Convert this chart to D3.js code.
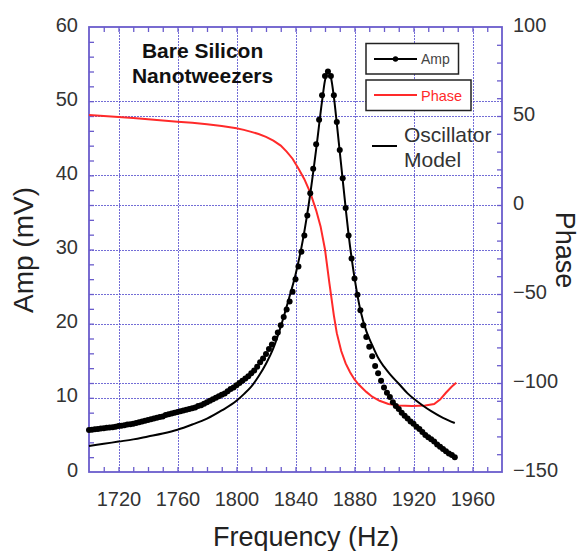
<!DOCTYPE html>
<html>
<head>
<meta charset="utf-8">
<script src="https://d3js.org/d3.v7.min.js"></script>
<style>
  body { margin: 0; background: #fff; }
  text { font-family: "Liberation Sans", Arial, sans-serif; }
</style>
</head>
<body>
<div id="chart"></div>
<script>
// Tick labels
const freqTicks = [1720, 1760, 1800, 1840, 1880, 1920, 1960];
const ampTicks = [0, 10, 20, 30, 40, 50, 60];
const phaseTicks = [-150, -100, -50, 0, 50, 100];

// Measured amplitude (mV), frequency sweep 1700..1948 Hz in 2 Hz steps
const sweepFreq = d3.range(1700, 1949, 2);
const ampData = [
  5.65, 5.7, 5.75, 5.8, 5.85, 5.9, 5.95, 6.0, 6.05, 6.1,
  6.2, 6.25, 6.3, 6.4, 6.45, 6.5, 6.6, 6.7, 6.8, 6.9,
  7.0, 7.1, 7.2, 7.3, 7.4, 7.5, 7.7, 7.8, 7.9, 8.0,
  8.1, 8.2, 8.3, 8.4, 8.5, 8.6, 8.7, 8.9, 9.0, 9.2,
  9.4, 9.6, 9.8, 10.0, 10.2, 10.4, 10.6, 10.9, 11.2, 11.4,
  11.7, 12.0, 12.3, 12.6, 12.9, 13.3, 13.7, 14.2, 14.8, 15.3,
  15.9, 16.6, 17.2, 18.0, 18.8, 19.8, 20.9, 21.9, 23.0, 24.3,
  26.0, 27.7, 29.7, 31.9, 34.6, 37.6, 40.9, 44.2, 47.5, 50.8,
  53.4, 54.0, 53.4, 50.8, 47.2, 43.4, 39.6, 35.6, 31.9, 28.8,
  26.1, 23.9, 21.8, 19.8, 18.2, 16.9, 15.6, 14.3, 13.3, 12.3,
  11.4, 10.7, 10.1, 9.4, 8.9, 8.5, 8.0, 7.6, 7.2, 6.8,
  6.5, 6.1, 5.8, 5.4, 5.0, 4.7, 4.4, 4.1, 3.7, 3.4,
  3.1, 2.8, 2.5, 2.3, 2.0
];

// Oscillator model (mV)
const modelFreq = [1700, 1710, 1720, 1730, 1740, 1750, 1760, 1770, 1780, 1790,
  1800, 1805, 1810, 1815, 1820, 1825, 1830, 1835, 1840, 1845,
  1850, 1854, 1858, 1860, 1862, 1864, 1866, 1868, 1870, 1872,
  1874, 1876, 1878, 1880, 1884, 1888, 1892, 1896, 1900, 1904,
  1910, 1916, 1920, 1926, 1932, 1940, 1948];
const modelAmp = [3.5, 3.8, 4.1, 4.4, 4.8, 5.2, 5.7, 6.4, 7.2, 8.3,
  9.6, 10.5, 11.5, 12.9, 14.6, 16.7, 19.6, 23.0, 26.6, 31.3,
  37.5, 43.5, 50.0, 52.8, 53.9, 53.2, 50.6, 47.0, 43.2, 39.4,
  35.6, 32.0, 28.9, 26.2, 21.8, 19.0, 17.1, 15.4, 14.2, 13.2,
  11.9, 10.6, 9.9, 9.0, 8.2, 7.3, 6.6];

// Phase (right axis)
const phaseFreq = [1700, 1710, 1720, 1730, 1740, 1750, 1760, 1770, 1780, 1790,
  1800, 1805, 1810, 1815, 1820, 1825, 1830, 1834, 1838, 1842,
  1846, 1850, 1854, 1857, 1860, 1863, 1866, 1868, 1871, 1874,
  1877, 1880, 1883, 1888, 1892, 1897, 1903, 1910, 1919, 1928,
  1934, 1938, 1942, 1946, 1949];
const phaseVal = [50.5, 50.0, 49.5, 48.9, 48.2, 47.5, 46.8, 46.2, 45.4, 44.4,
  43.1, 42.2, 41.1, 39.9, 38.3, 36.2, 33.4, 30.0, 26.0, 20.5,
  14.5, 7.0, -3.0, -12.0, -25.0, -44.0, -62.0, -72.0, -82.0, -89.0,
  -94.0, -98.0, -101.0, -105.0, -107.7, -110.0, -111.8, -112.7, -112.9, -112.7,
  -111.8, -109.3, -105.5, -102.0, -99.8];

const W = 582, H = 551;
const margin = {top: 27, right: 80, bottom: 79, left: 89};
const width = W - margin.left - margin.right;
const height = H - margin.top - margin.bottom;

const frameColor = "#6a5ccc";
const gridColor = "#5048cc";
const redColor = "#ff2a2a";

const svg = d3.select("#chart").append("svg")
    .attr("width", W)
    .attr("height", H);

svg.append("rect").attr("width", W).attr("height", H).attr("fill", "#fff");

const g = svg.append("g")
    .attr("transform", `translate(${margin.left},${margin.top})`);

const x = d3.scaleLinear().domain([1700, 1980]).range([0, width]);
const yL = d3.scaleLinear().domain([0, 60]).range([height, 0]);
const yR = d3.scaleLinear().domain([-150, 100]).range([height, 0]);

// dotted grid lines
function styleGrid(sel) {
    sel.select(".domain").remove();
    sel.selectAll("line")
        .attr("stroke", gridColor)
        .attr("stroke-width", 1)
        .attr("stroke-dasharray", "2,1")
        .attr("shape-rendering", "crispEdges")
        .attr("opacity", 0.8);
}
g.append("g")
    .attr("transform", `translate(0,${height})`)
    .call(d3.axisBottom(x).tickValues(freqTicks).tickSize(-height).tickFormat(""))
    .call(styleGrid);
g.append("g")
    .call(d3.axisLeft(yL).tickValues(ampTicks.slice(1, -1)).tickSize(-width).tickFormat(""))
    .call(styleGrid);
g.append("g")
    .call(d3.axisLeft(yR).tickValues(phaseTicks.slice(1, -1)).tickSize(-width).tickFormat(""))
    .call(styleGrid);

// inward minor ticks on all four sides
function styleTicks(sel) {
    sel.select(".domain").remove();
    sel.selectAll("line").attr("stroke", frameColor).attr("stroke-width", 1.3);
}
const xMinor = d3.range(1710, 1980, 10);
g.append("g").attr("transform", `translate(0,${height})`)
    .call(d3.axisBottom(x).tickValues(xMinor).tickSize(-5).tickFormat(""))
    .call(styleTicks);
g.append("g")
    .call(d3.axisTop(x).tickValues(xMinor).tickSize(-5).tickFormat(""))
    .call(styleTicks);
g.append("g")
    .call(d3.axisLeft(yL).tickValues(d3.range(2, 60, 2)).tickSize(-5).tickFormat(""))
    .call(styleTicks);
g.append("g").attr("transform", `translate(${width},0)`)
    .call(d3.axisRight(yR).tickValues(d3.range(-140, 100, 10)).tickSize(-5).tickFormat(""))
    .call(styleTicks);

// frame
g.append("rect")
    .attr("width", width)
    .attr("height", height)
    .attr("fill", "none")
    .attr("stroke", frameColor)
    .attr("stroke-width", 1.8);

// tick labels
function styleLabels(sel) {
    sel.select(".domain").remove();
    sel.selectAll("line").remove();
    sel.attr("font-family", null).attr("font-size", null);
    sel.selectAll("text")
        .attr("fill", "#333")
        .style("font-size", "20px");
}
g.append("g").attr("transform", `translate(0,${height})`)
    .call(d3.axisBottom(x).tickValues(freqTicks).tickSize(0).tickPadding(20).tickFormat(d3.format("d")))
    .call(styleLabels);
g.append("g")
    .call(d3.axisLeft(yL).tickValues(ampTicks).tickSize(0).tickPadding(11))
    .call(styleLabels)
    .call(s => s.selectAll("text").attr("dy", "0.2em"));
g.append("g").attr("transform", `translate(${width},0)`)
    .call(d3.axisRight(yR).tickValues(phaseTicks).tickSize(0).tickPadding(11))
    .call(styleLabels)
    .call(s => s.selectAll("text").attr("dy", "0.2em"));

// phase curve
const phaseLine = d3.line()
    .x((d, i) => x(phaseFreq[i]))
    .y(d => yR(d));
g.append("path")
    .datum(phaseVal)
    .attr("d", phaseLine)
    .attr("fill", "none")
    .attr("stroke", redColor)
    .attr("stroke-width", 2);

// oscillator model
const modelLine = d3.line()
    .x((d, i) => x(modelFreq[i]))
    .y(d => yL(d))
    .curve(d3.curveMonotoneX);
g.append("path")
    .datum(modelAmp)
    .attr("d", modelLine)
    .attr("fill", "none")
    .attr("stroke", "#000")
    .attr("stroke-width", 2);

// measured amplitude dots
g.selectAll(".amp-dot")
    .data(ampData)
    .enter().append("circle")
    .attr("class", "amp-dot")
    .attr("cx", (d, i) => x(sweepFreq[i]))
    .attr("cy", d => yL(d))
    .attr("r", 3)
    .attr("fill", "#000");

// title inside plot
const title = g.append("text")
    .attr("text-anchor", "middle")
    .attr("font-weight", "bold")
    .attr("font-size", "21px")
    .attr("fill", "#111");
title.append("tspan").attr("x", x(1777)).attr("y", 31).text("Bare Silicon");
title.append("tspan").attr("x", x(1777)).attr("y", 55.5).text("Nanotweezers");

// legend
const legend = svg.append("g");
legend.append("rect")
    .attr("x", 366).attr("y", 43.5).attr("width", 92.5).attr("height", 30.5)
    .attr("fill", "#fff").attr("stroke", "#222").attr("stroke-width", 1.5);
legend.append("line")
    .attr("x1", 374).attr("x2", 417).attr("y1", 59).attr("y2", 59)
    .attr("stroke", "#000").attr("stroke-width", 1.8);
legend.append("circle").attr("cx", 395.5).attr("cy", 59).attr("r", 2.7).attr("fill", "#000");
legend.append("text")
    .attr("x", 421).attr("y", 64).attr("font-size", "14px").attr("fill", "#444")
    .text("Amp");

legend.append("rect")
    .attr("x", 366).attr("y", 80).attr("width", 105).attr("height", 30.5)
    .attr("fill", "#fff").attr("stroke", "#222").attr("stroke-width", 1.5);
legend.append("line")
    .attr("x1", 374).attr("x2", 417).attr("y1", 95).attr("y2", 95)
    .attr("stroke", redColor).attr("stroke-width", 2);
legend.append("text")
    .attr("x", 421).attr("y", 100.5).attr("font-size", "14.5px").attr("fill", redColor)
    .text("Phase");

legend.append("line")
    .attr("x1", 372).attr("x2", 397).attr("y1", 146).attr("y2", 146)
    .attr("stroke", "#000").attr("stroke-width", 2);
legend.append("text")
    .attr("x", 404).attr("y", 141.5).attr("font-size", "21px").attr("fill", "#333")
    .text("Oscillator");
legend.append("text")
    .attr("x", 404).attr("y", 166.5).attr("font-size", "21px").attr("fill", "#333")
    .text("Model");

// axis titles
svg.append("text")
    .attr("x", 306).attr("y", 546)
    .attr("text-anchor", "middle")
    .attr("font-size", "27px")
    .attr("fill", "#222")
    .text("Frequency (Hz)");
svg.append("text")
    .attr("transform", "translate(33,250) rotate(-90)")
    .attr("text-anchor", "middle")
    .attr("font-size", "28px")
    .attr("fill", "#222")
    .text("Amp (mV)");
svg.append("text")
    .attr("transform", "translate(556,250) rotate(90)")
    .attr("text-anchor", "middle")
    .attr("font-size", "27px")
    .attr("fill", "#222")
    .text("Phase");
</script>
</body>
</html>
